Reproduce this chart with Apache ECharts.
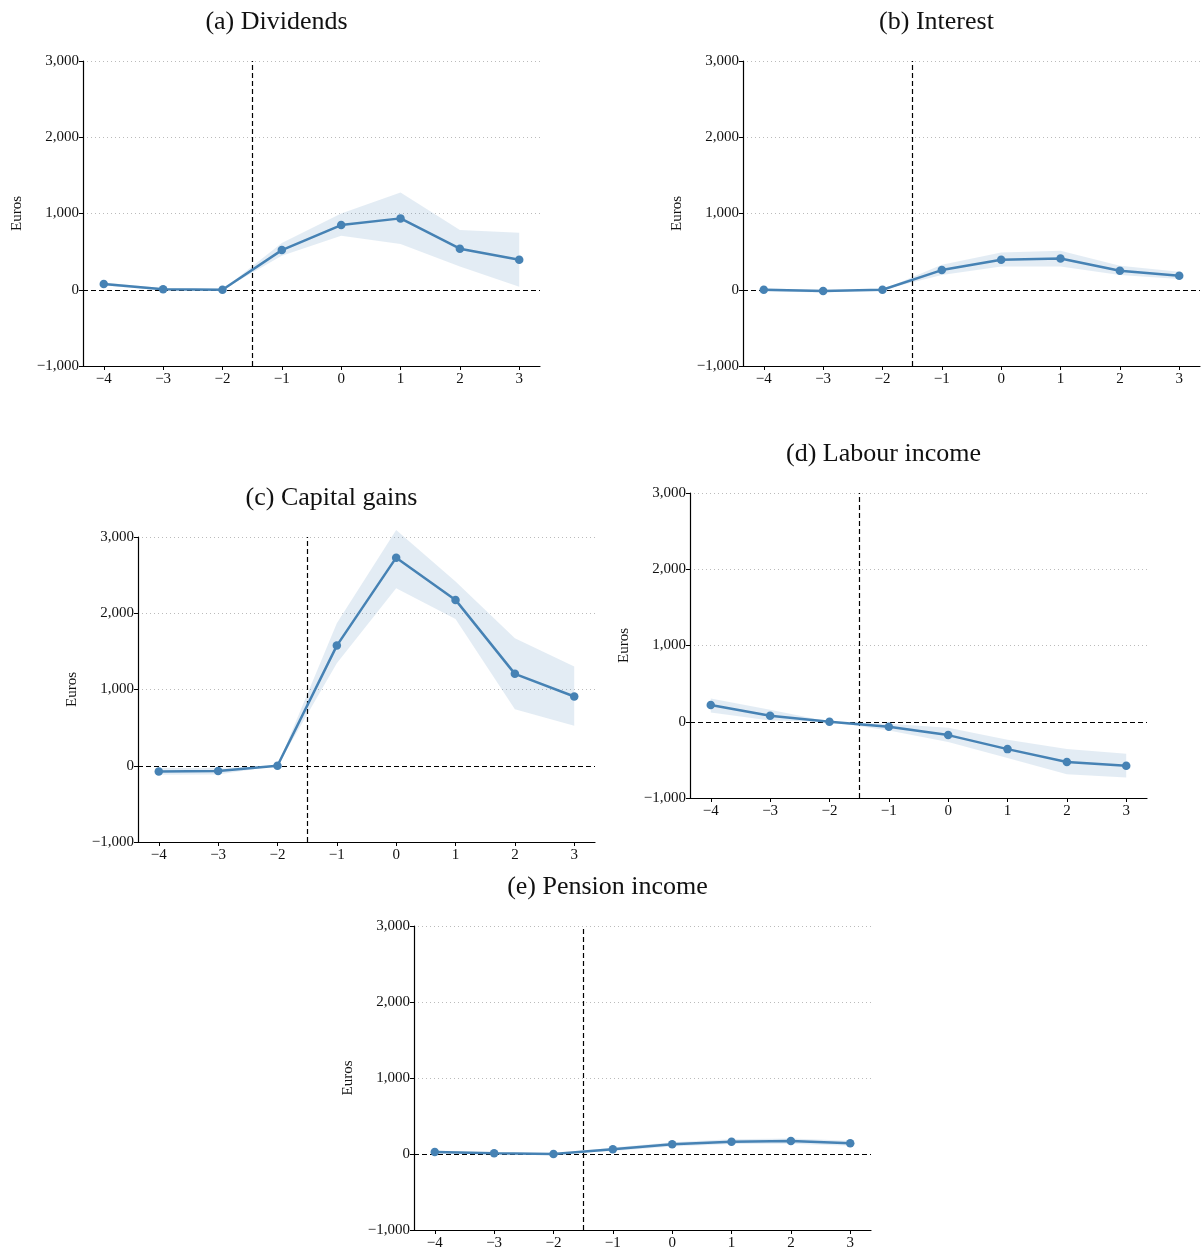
<!DOCTYPE html>
<html>
<head>
<meta charset="utf-8">
<script src="https://cdn.jsdelivr.net/npm/echarts@6/dist/echarts.min.js"></script>
<style>
  html, body { margin: 0; padding: 0; background: #fff; }
  #chart { width: 1203px; height: 1251px; }
</style>
</head>
<body>
<div id="chart"></div>
<script>
// Event time (years relative to event)
const years = [-4, -3, -2, -1, 0, 1, 2, 3];

// (a) Dividends: estimate and 95% band
const dividends     = [75, 5, 0, 520, 848, 936, 538, 394];
const dividendsLow  = [55, -10, 0, 446, 708, 599, 306, 39];
const dividendsHigh = [95, 20, 0, 612, 1001, 1277, 783, 748];

// (b) Interest
const interest     = [0, -17, 0, 258, 394, 411, 249, 184];
const interestLow  = [-20, -35, 0, 192, 306, 306, 192, 140];
const interestHigh = [15, 0, 0, 328, 490, 512, 315, 236];

// (c) Capital gains
const capitalGains     = [-74, -70, 0, 1576, 2729, 2175, 1205, 908];
const capitalGainsLow  = [-118, -115, 0, 1345, 2328, 1926, 742, 524];
const capitalGainsHigh = [-31, -30, 0, 1869, 3092, 2415, 1672, 1301];

// (d) Labour income
const labour     = [219, 79, 0, -66, -175, -359, -529, -577];
const labourLow  = [122, 17, 0, -114, -267, -477, -690, -730];
const labourHigh = [306, 157, 0, -26, -79, -236, -359, -420];

// (e) Pension income
const pension     = [26, 9, 0, 61, 127, 162, 170, 140];
const pensionLow  = [10, 0, 0, 40, 100, 130, 135, 110];
const pensionHigh = [45, 20, 0, 85, 155, 195, 205, 175];

const panels = [
  { title: '(a) Dividends',      est: dividends,    lo: dividendsLow,    hi: dividendsHigh,    left: 83,  top: 61 },
  { title: '(b) Interest',       est: interest,     lo: interestLow,     hi: interestHigh,     left: 743, top: 61 },
  { title: '(c) Capital gains',  est: capitalGains, lo: capitalGainsLow, hi: capitalGainsHigh, left: 138, top: 537 },
  { title: '(d) Labour income',  est: labour,       lo: labourLow,       hi: labourHigh,       left: 690, top: 493 },
  { title: '(e) Pension income', est: pension,      lo: pensionLow,      hi: pensionHigh,      left: 414, top: 926 }
];

const GRID_W = 457, GRID_H = 305;
const LINE_COLOR = '#4682b4';
const BAND_COLOR = 'rgba(70,130,180,0.15)';
const FONT = '"Liberation Serif", "DejaVu Serif", serif';

function fmt(v) {
  const s = Math.abs(v).toLocaleString('en-US');
  return v < 0 ? '\u2212' + s : s;
}

const grid = [], xAxis = [], yAxis = [], series = [], title = [];

panels.forEach((p, i) => {
  grid.push({ left: p.left, top: p.top, width: GRID_W, height: GRID_H, containLabel: false });

  title.push({
    text: p.title,
    left: p.left + GRID_W / 2 - 40,
    top: p.top - 57,
    textAlign: 'center',
    textStyle: { fontFamily: FONT, fontSize: 26, fontWeight: 'normal', color: '#111' }
  });

  xAxis.push({
    type: 'value', gridIndex: i, min: -4.35, max: 3.35,
    axisLine: { show: true, onZero: false, lineStyle: { color: '#000', width: 1.2 } },
    axisTick: { show: true, inside: false, length: 4, customValues: years, lineStyle: { color: '#000' } },
    axisLabel: { customValues: years, formatter: fmt, fontFamily: FONT, fontSize: 15, color: '#111', margin: 6 },
    splitLine: { show: false }
  });

  yAxis.push({
    type: 'value', gridIndex: i, min: -1000, max: 3000, interval: 1000,
    name: 'Euros', nameLocation: 'middle', nameGap: 58, nameRotate: 90,
    nameTextStyle: { fontFamily: FONT, fontSize: 15, color: '#111' },
    axisLine: { show: true, onZero: false, lineStyle: { color: '#000', width: 1.2 } },
    axisTick: { show: true, inside: false, length: 4, lineStyle: { color: '#000' } },
    axisLabel: { formatter: fmt, fontFamily: FONT, fontSize: 15, color: '#111', margin: 4 },
    splitLine: { show: true, lineStyle: { type: [1, 3], color: '#bbb', width: 1 } }
  });

  // confidence band drawn as one polygon: upper bound left-to-right, lower bound back
  series.push({
    type: 'custom', xAxisIndex: i, yAxisIndex: i, silent: true, z: 1,
    data: years.map((x, k) => [x, p.lo[k], p.hi[k]]),
    encode: { x: 0, y: [1, 2] },
    renderItem: (params, api) => {
      if (params.dataIndex !== 0) return null;
      const upper = years.map((x, k) => api.coord([x, p.hi[k]]));
      const lower = years.map((x, k) => api.coord([x, p.lo[k]])).reverse();
      return {
        type: 'polygon',
        shape: { points: upper.concat(lower) },
        style: { fill: BAND_COLOR }
      };
    },
    markLine: {
      symbol: 'none', silent: true, label: { show: false },
      lineStyle: { type: [5, 3], color: '#000', width: 1.2 },
      data: [{ xAxis: -1.5 }, { yAxis: 0 }]
    }
  });
  // point estimates
  series.push({
    type: 'line', xAxisIndex: i, yAxisIndex: i,
    data: years.map((x, k) => [x, p.est[k]]),
    symbol: 'circle', symbolSize: 8.5, showAllSymbol: true,
    lineStyle: { color: LINE_COLOR, width: 2.5 },
    itemStyle: { color: LINE_COLOR },
    z: 5
  });
});

const chart = echarts.init(document.getElementById('chart'), null, { renderer: 'canvas' });
chart.setOption({
  animation: false,
  backgroundColor: '#fff',
  title, grid, xAxis, yAxis, series
});
</script>
</body>
</html>
